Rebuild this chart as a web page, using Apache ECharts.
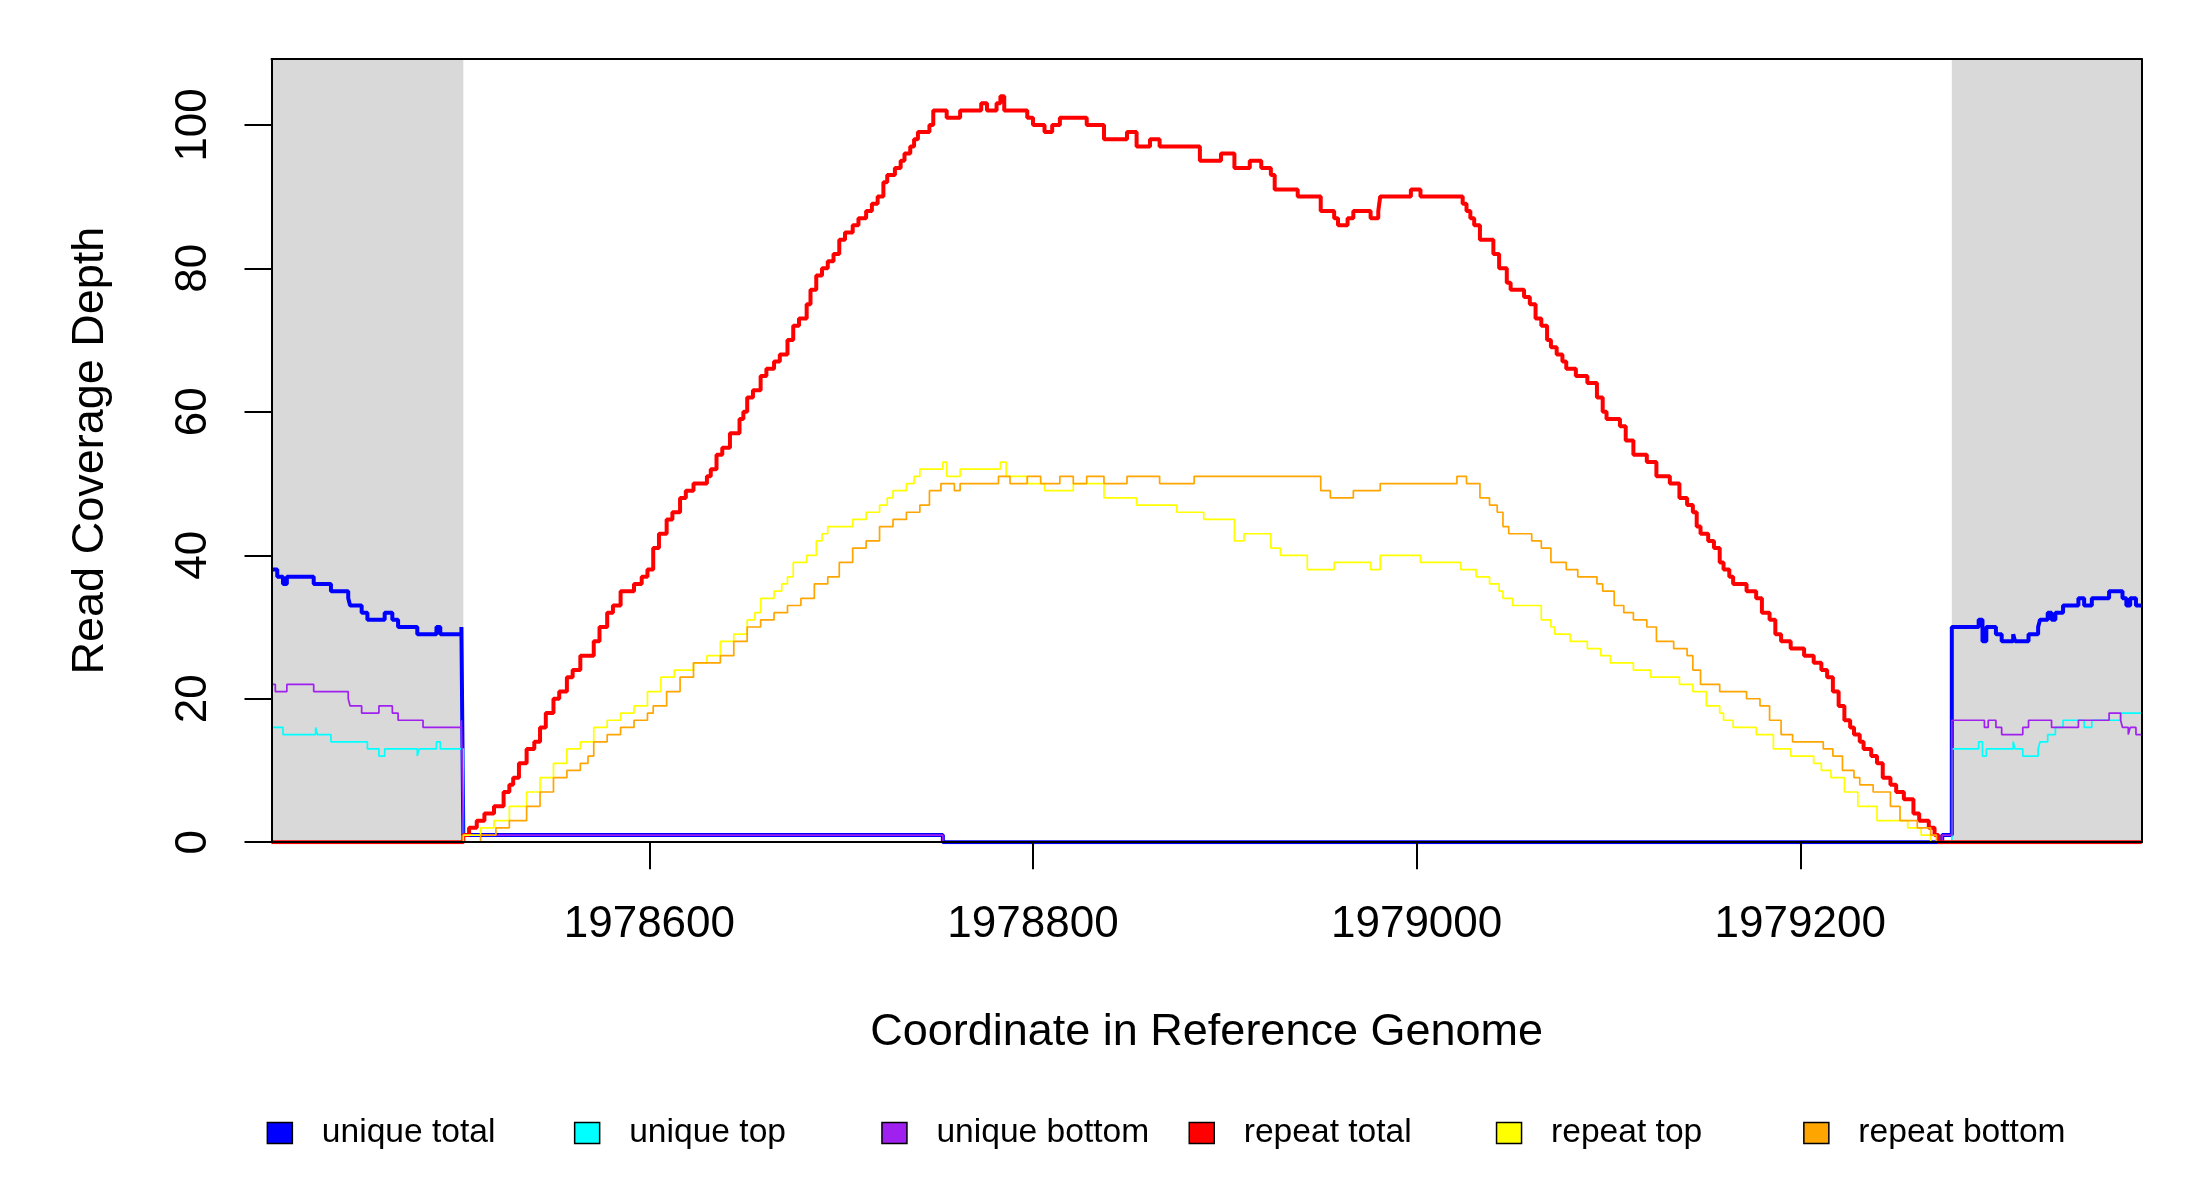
<!DOCTYPE html>
<html><head><meta charset="utf-8">
<script src="https://cdn.jsdelivr.net/npm/echarts@6/dist/echarts.min.js"></script>
<style>html,body{margin:0;padding:0;background:#fff}#c{width:2200px;height:1200px}</style>
</head><body><div id="c"></div>
<script>
const xTicks = [1978600, 1978800, 1979000, 1979200];
const yTicks = [0, 20, 40, 60, 80, 100];
const xRange = [1978403, 1979378];
const yRange = [0, 109.2];
const shadedRegions = [[1978403, 1978503], [1979279, 1979378]];
const legendNames = ['unique total', 'unique top', 'unique bottom', 'repeat total', 'repeat top', 'repeat bottom'];

const uniqueTotal = [[1978403,38],[1978406,37],[1978409,36],[1978411,37],[1978425,36],[1978434,35],[1978443,34],[1978444,33],[1978450,32],[1978453,31],[1978462,32],[1978466,31],[1978469,30],[1978479,29],[1978489,30],[1978491,29],[1978502,30],[1978503,1],[1978753,0],[1979274,1],[1979279,30],[1979293,31],[1979295,28],[1979297,30],[1979302,29],[1979305,28],[1979311,29],[1979312,28],[1979319,29],[1979324,30],[1979325,31],[1979329,32],[1979331,31],[1979333,32],[1979337,33],[1979345,34],[1979348,33],[1979352,34],[1979361,35],[1979368,34],[1979370,33],[1979372,34],[1979375,33],[1979378,33]];

const uniqueTop = [[1978403,16],[1978409,15],[1978426,16],[1978427,15],[1978434,14],[1978453,13],[1978459,12],[1978462,13],[1978479,12],[1978480,13],[1978489,14],[1978491,13],[1978503,0],[1979279,13],[1979293,14],[1979295,12],[1979297,13],[1979311,14],[1979312,13],[1979316,12],[1979324,13],[1979325,14],[1979329,15],[1979333,16],[1979337,17],[1979348,16],[1979352,17],[1979367,18],[1979378,18]];

const uniqueBottom = [[1978403,22],[1978405,21],[1978411,22],[1978425,21],[1978443,20],[1978444,19],[1978450,18],[1978459,19],[1978466,18],[1978469,17],[1978482,16],[1978502,17],[1978503,1],[1978753,0],[1979274,1],[1979279,17],[1979296,16],[1979298,17],[1979302,16],[1979305,15],[1979316,16],[1979319,17],[1979331,16],[1979345,17],[1979361,18],[1979367,17],[1979368,16],[1979371,15],[1979372,16],[1979375,15],[1979378,15]];

const repeatTotal = [[1978403,0],[1978503,1],[1978506,2],[1978510,3],[1978514,4],[1978519,5],[1978524,7],[1978527,8],[1978529,9],[1978532,11],[1978536,13],[1978540,14],[1978543,16],[1978546,18],[1978550,20],[1978553,21],[1978557,23],[1978560,24],[1978564,26],[1978571,28],[1978574,30],[1978578,32],[1978581,33],[1978585,35],[1978592,36],[1978596,37],[1978599,38],[1978602,41],[1978605,43],[1978609,45],[1978612,46],[1978616,48],[1978619,49],[1978623,50],[1978630,51],[1978632,52],[1978635,54],[1978638,55],[1978642,57],[1978647,59],[1978649,60],[1978651,62],[1978654,63],[1978658,65],[1978661,66],[1978665,67],[1978668,68],[1978672,70],[1978675,72],[1978678,73],[1978682,75],[1978684,77],[1978687,79],[1978690,80],[1978693,81],[1978696,82],[1978699,84],[1978702,85],[1978706,86],[1978709,87],[1978713,88],[1978716,89],[1978719,90],[1978722,92],[1978724,93],[1978728,94],[1978731,95],[1978733,96],[1978736,97],[1978738,98],[1978740,99],[1978746,100],[1978748,102],[1978753,102],[1978755,101],[1978762,102],[1978773,103],[1978776,102],[1978781,103],[1978783,104],[1978785,102],[1978793,102],[1978797,101],[1978800,100],[1978806,99],[1978810,100],[1978814,101],[1978821,101],[1978828,100],[1978833,100],[1978837,98],[1978844,98],[1978849,99],[1978854,97],[1978861,98],[1978866,97],[1978875,97],[1978884,97],[1978887,95],[1978898,96],[1978905,94],[1978913,95],[1978919,94],[1978924,93],[1978926,91],[1978934,91],[1978938,90],[1978945,90],[1978950,88],[1978957,87],[1978959,86],[1978964,87],[1978967,88],[1978973,88],[1978976,87],[1978980,88],[1978981,90],[1978985,90],[1978992,90],[1978997,91],[1979002,90],[1979006,90],[1979013,90],[1979021,90],[1979024,89],[1979026,88],[1979028,87],[1979030,86],[1979033,84],[1979038,84],[1979040,82],[1979043,80],[1979047,78],[1979049,77],[1979056,76],[1979059,75],[1979062,73],[1979065,72],[1979068,70],[1979070,69],[1979073,68],[1979076,67],[1979078,66],[1979083,65],[1979089,64],[1979094,62],[1979097,60],[1979099,59],[1979106,58],[1979109,56],[1979113,54],[1979120,53],[1979125,51],[1979132,50],[1979137,48],[1979141,47],[1979144,46],[1979146,44],[1979148,43],[1979152,42],[1979155,41],[1979158,39],[1979160,38],[1979163,37],[1979165,36],[1979172,35],[1979177,34],[1979180,32],[1979184,31],[1979187,29],[1979190,28],[1979195,27],[1979202,26],[1979207,25],[1979211,24],[1979214,23],[1979217,21],[1979220,19],[1979223,17],[1979226,16],[1979228,15],[1979231,14],[1979233,13],[1979237,12],[1979240,11],[1979243,9],[1979247,8],[1979250,7],[1979254,6],[1979259,4],[1979262,3],[1979267,2],[1979270,1],[1979272,0],[1979378,0]];

const repeatTop = [[1978403,0],[1978503,1],[1978512,2],[1978519,3],[1978527,5],[1978536,7],[1978543,9],[1978550,11],[1978557,13],[1978564,14],[1978571,16],[1978578,17],[1978585,18],[1978592,19],[1978599,21],[1978606,23],[1978613,24],[1978623,25],[1978630,26],[1978637,28],[1978644,29],[1978651,31],[1978655,32],[1978658,34],[1978665,35],[1978669,36],[1978672,37],[1978675,39],[1978682,40],[1978687,42],[1978690,43],[1978693,44],[1978699,44],[1978706,45],[1978713,46],[1978720,47],[1978724,48],[1978727,49],[1978734,50],[1978738,51],[1978741,52],[1978748,52],[1978753,53],[1978755,51],[1978762,52],[1978773,52],[1978783,53],[1978786,51],[1978797,50],[1978806,49],[1978814,49],[1978821,50],[1978832,50],[1978837,48],[1978846,48],[1978854,47],[1978863,47],[1978875,46],[1978884,46],[1978889,45],[1978900,45],[1978905,42],[1978910,43],[1978917,43],[1978924,41],[1978929,40],[1978938,40],[1978943,38],[1978950,38],[1978957,39],[1978964,39],[1978971,39],[1978976,38],[1978981,40],[1978986,40],[1978995,40],[1979002,39],[1979013,39],[1979023,38],[1979028,38],[1979031,37],[1979038,36],[1979043,35],[1979045,34],[1979050,33],[1979057,33],[1979065,31],[1979070,30],[1979072,29],[1979080,28],[1979089,27],[1979096,26],[1979101,25],[1979113,24],[1979122,23],[1979127,23],[1979137,22],[1979144,21],[1979151,19],[1979158,18],[1979160,17],[1979165,16],[1979172,16],[1979177,15],[1979186,13],[1979195,12],[1979200,12],[1979207,11],[1979211,10],[1979216,9],[1979223,7],[1979230,5],[1979240,3],[1979249,3],[1979256,2],[1979263,1],[1979268,0],[1979378,0]];

const repeatBottom = [[1978403,0],[1978512,1],[1978520,2],[1978527,3],[1978536,5],[1978543,7],[1978550,9],[1978557,10],[1978564,11],[1978568,12],[1978571,14],[1978578,15],[1978585,16],[1978592,17],[1978599,18],[1978602,19],[1978609,21],[1978616,23],[1978623,25],[1978637,26],[1978644,28],[1978651,30],[1978658,31],[1978665,32],[1978672,33],[1978679,34],[1978686,36],[1978693,37],[1978699,39],[1978706,41],[1978713,42],[1978720,44],[1978727,45],[1978734,46],[1978741,47],[1978746,49],[1978752,50],[1978759,49],[1978762,50],[1978782,51],[1978788,50],[1978797,51],[1978804,50],[1978814,51],[1978821,50],[1978828,51],[1978837,50],[1978849,51],[1978866,50],[1978884,51],[1978950,49],[1978955,48],[1978967,49],[1978981,50],[1979021,51],[1979026,50],[1979033,48],[1979038,47],[1979042,46],[1979045,44],[1979048,43],[1979060,42],[1979065,41],[1979070,39],[1979078,38],[1979084,37],[1979094,36],[1979097,35],[1979103,33],[1979108,32],[1979113,31],[1979120,30],[1979125,28],[1979134,27],[1979141,26],[1979144,24],[1979148,22],[1979158,21],[1979172,20],[1979179,19],[1979184,17],[1979190,15],[1979196,14],[1979212,13],[1979217,12],[1979222,10],[1979228,9],[1979231,8],[1979238,7],[1979247,5],[1979252,3],[1979261,2],[1979268,1],[1979271,0],[1979378,0]];

const F = '"Liberation Sans", Arial, sans-serif';
const colors = ['#0000FF', '#00FFFF', '#A020F0', '#FF0000', '#FFFF00', '#FFA500'];
const widths = [4, 1.7, 1.7, 4, 1.7, 1.7];
const seriesData = [uniqueTotal, uniqueTop, uniqueBottom, repeatTotal, repeatTop, repeatBottom];

const chart = echarts.init(document.getElementById('c'), null, {renderer: 'canvas'});

const series = [{
  type: 'line', name: '_shade', data: [], z: 1, silent: true,
  markArea: {
    silent: true,
    itemStyle: {color: '#D9D9D9'},
    data: shadedRegions.map(r => [{xAxis: r[0]}, {xAxis: r[1]}])
  }
}];
legendNames.forEach((n, i) => {
  series.push({
    type: 'line', name: n, data: seriesData[i], step: 'end',
    showSymbol: false, symbol: 'none', z: 3 + i,
    color: colors[i],
    lineStyle: {color: colors[i], width: widths[i]},
    itemStyle: {color: colors[i]},
    emphasis: {disabled: true}
  });
});

const legends = legendNames.map((n, i) => ({
  left: 266.6 + i * 307.3, top: 1113, padding: 0,
  data: [n], icon: 'rect', itemWidth: 25, itemHeight: 21,
  selectedMode: false,
  itemStyle: {borderColor: '#000', borderWidth: 1.5},
  textStyle: {fontSize: 33.6, color: '#000', fontFamily: F, lineHeight: 40, padding: [0, 0, 0, 24.5]}
}));

const axisLineStyle = {color: '#000', width: 2};
chart.setOption({
  animation: false,
  backgroundColor: '#fff',
  grid: {left: 271.5, right: 58.3, top: 58.9, bottom: 357.8, containLabel: false, show: false},
  legend: legends,
  xAxis: [{
    type: 'value', min: xRange[0], max: xRange[1], position: 'bottom', z: 10,
    axisLine: {show: true, onZero: false, lineStyle: axisLineStyle},
    axisTick: {show: true, customValues: xTicks, length: 27, inside: false, lineStyle: axisLineStyle},
    axisLabel: {show: true, customValues: xTicks, margin: 61, fontSize: 44, color: '#000', fontFamily: F, formatter: v => String(v)},
    splitLine: {show: false},
    name: 'Coordinate in Reference Genome', nameLocation: 'middle', nameGap: 168,
    nameTextStyle: {fontSize: 45, color: '#000', fontFamily: F}
  }, {
    type: 'value', min: xRange[0], max: xRange[1], position: 'top', z: 10,
    axisLine: {show: true, onZero: false, lineStyle: axisLineStyle},
    axisTick: {show: false}, axisLabel: {show: false}, splitLine: {show: false}
  }],
  yAxis: [{
    type: 'value', min: yRange[0], max: yRange[1], position: 'left', z: 10,
    axisLine: {show: true, onZero: false, lineStyle: axisLineStyle},
    axisTick: {show: true, customValues: yTicks, length: 27, inside: false, lineStyle: axisLineStyle},
    axisLabel: {show: true, customValues: yTicks, rotate: 90, margin: 56, fontSize: 44, color: '#000', fontFamily: F},
    splitLine: {show: false},
    name: 'Read Coverage Depth', nameLocation: 'middle', nameRotate: 90, nameGap: 158,
    nameTextStyle: {fontSize: 45, color: '#000', fontFamily: F}
  }, {
    type: 'value', min: yRange[0], max: yRange[1], position: 'right', z: 10,
    axisLine: {show: true, onZero: false, lineStyle: axisLineStyle},
    axisTick: {show: false}, axisLabel: {show: false}, splitLine: {show: false}
  }],
  series: series
});
</script></body></html>
